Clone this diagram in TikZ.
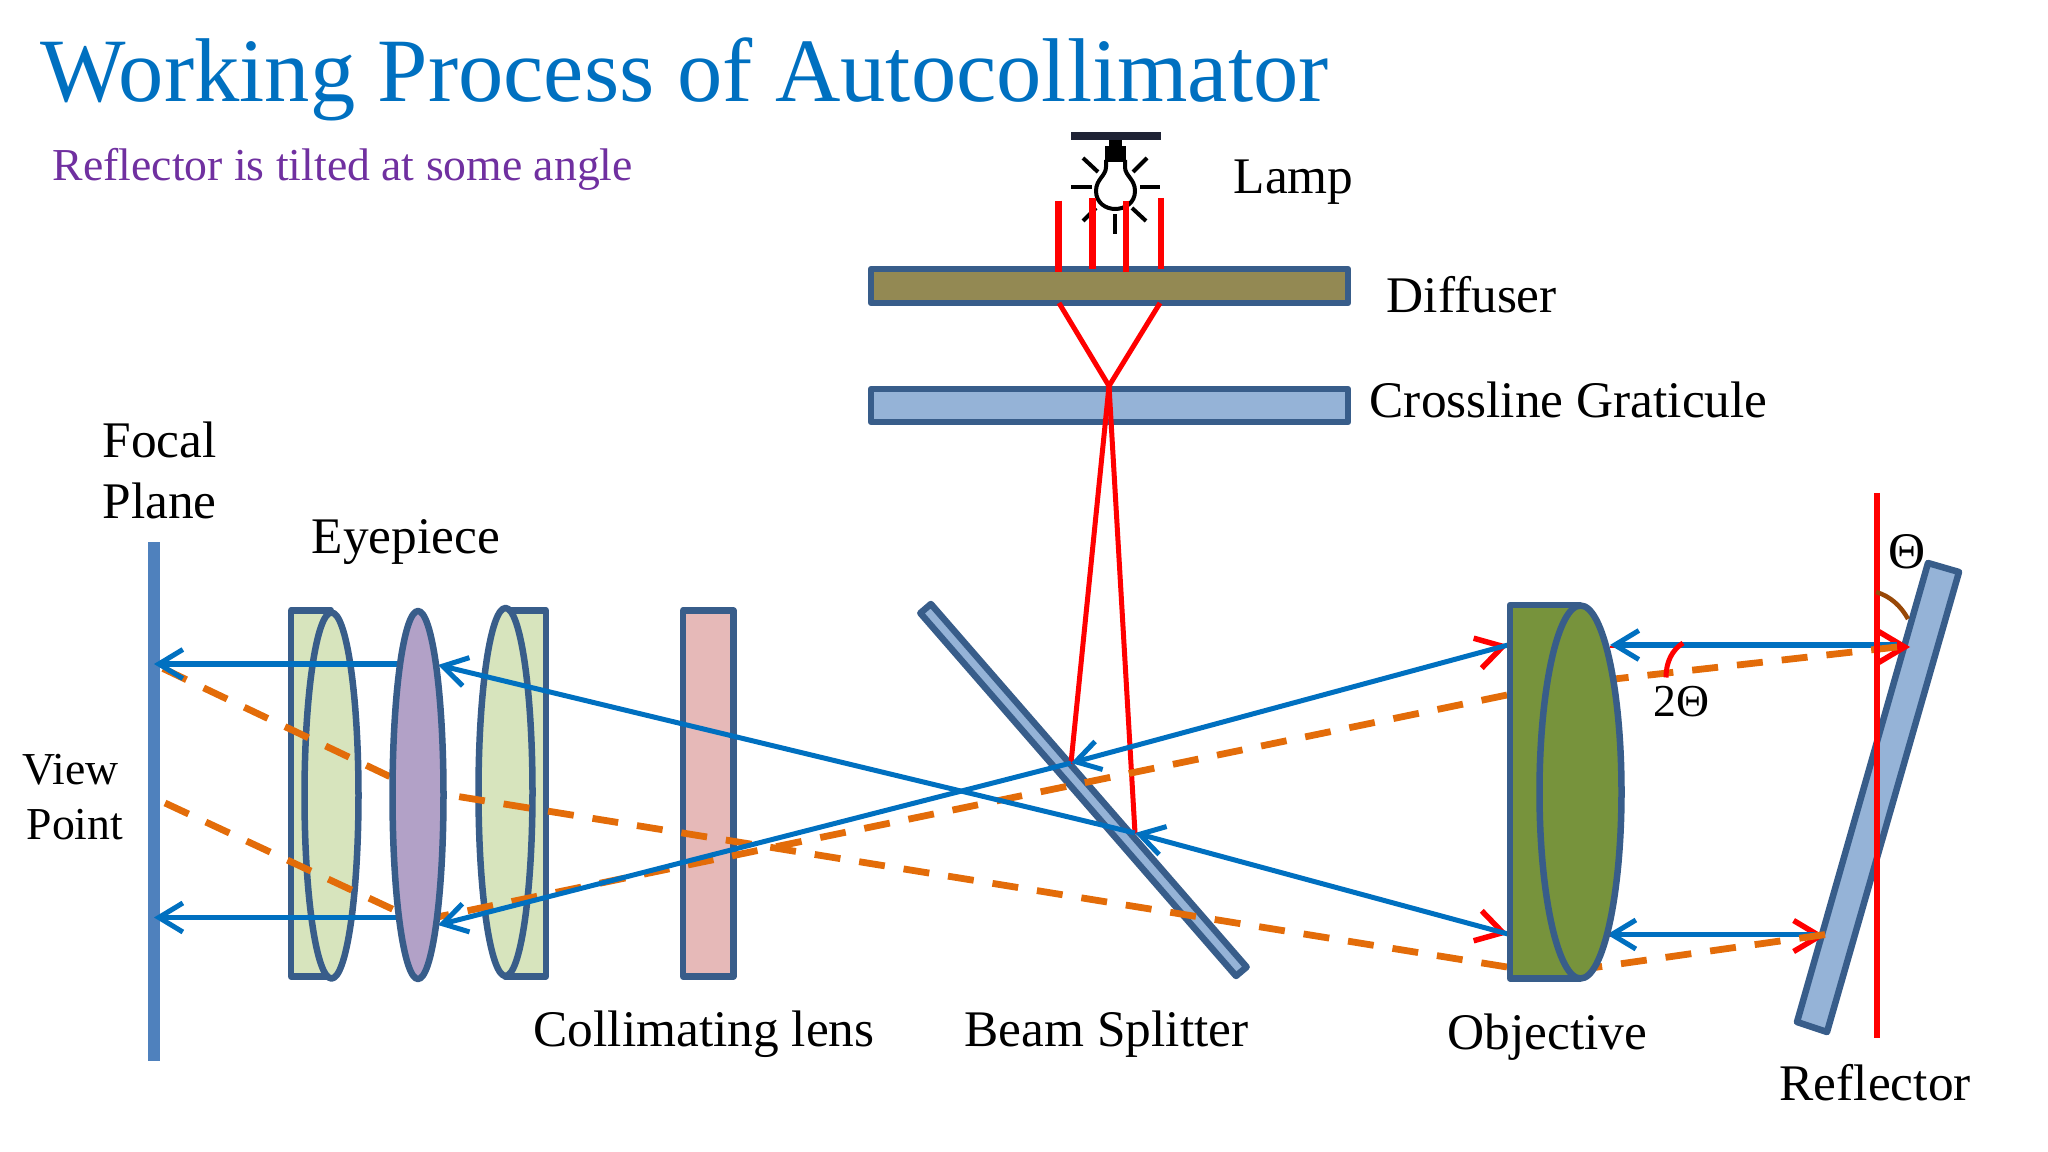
\documentclass[tikz,border=0pt]{standalone}
\usepackage{fontspec}
\setmainfont{Liberation Serif}
\usetikzlibrary{arrows.meta}
\definecolor{rayblue}{HTML}{0070C0}
\definecolor{rayorange}{HTML}{E36C09}
\definecolor{edgeblue}{HTML}{385D8A}
\definecolor{plateblue}{HTML}{95B3D7}
\definecolor{planeblue}{HTML}{4F81BD}
\definecolor{diffuserfill}{HTML}{938953}
\definecolor{lensgreen}{HTML}{D7E4BD}
\definecolor{lenspurple}{HTML}{B2A1C7}
\definecolor{lenspink}{HTML}{E6B9B8}
\definecolor{objgreen}{HTML}{77933C}
\definecolor{titlepurple}{HTML}{7030A0}
\definecolor{lampdark}{HTML}{1F2335}
\definecolor{arcbrown}{HTML}{984807}
\tikzset{
  optic/.style={draw=edgeblue,line width=.65mm,line join=round},
  bluebeam/.style={draw=rayblue,line width=.5mm},
  blueend/.style={bluebeam,-{Straight Barb[length=2.4mm,width=2.9mm]}},
  redbeam/.style={draw=red,line width=.5mm},
  redhead/.style={draw=red,line width=.2mm,-{Straight Barb[length=2.6mm,width=3.1mm,line width=.55mm]}},
  lampray/.style={draw=red,line width=.64mm},
  image/.style={draw=rayorange,line width=.68mm,dash pattern=on 2.6mm off 1.9mm},
  spoke/.style={draw=black,line width=.4mm},
  label/.style={inner sep=0pt,anchor=base west,font=\fontsize{14.6}{18}\selectfont}
}
\begin{document}
\begin{tikzpicture}[x=.01cm,y=-.01cm]
   \useasboundingbox (0,0) rectangle (2048,1152);

   \node[label,text=rayblue,font=\fontsize{25.75}{30}\selectfont] (title) at (40,102) {Working Process of Autocollimator};
   \node[label,text=titlepurple,font=\fontsize{13}{16}\selectfont] (subtitle) at (52,181) {Reflector is tilted at some angle};

   \coordinate (graticule) at (1109,386);
   \coordinate (splitA) at (1071,763);
   \coordinate (splitB) at (1135,833);
   \coordinate (objA) at (1508,645);
   \coordinate (objB) at (1508,934);
   \coordinate (eyeA) at (438,665);
   \coordinate (eyeB) at (438,925);
   \coordinate (planeA) at (154,664);
   \coordinate (planeB) at (154,917.5);

   \fill[lampdark] (1071,132.5) rectangle (1161,140.5);
   \fill[black] (1109,140) rectangle (1122,146);
   \draw[spoke] (1105,148)--(1126,148);
   \draw[spoke] (1105,152)--(1126,152);
   \draw[spoke] (1105,156)--(1126,156);
   \draw[spoke] (1105,160)--(1126,160);
   \draw[spoke] (1106,160) -- (1106,167) .. controls (1106,176) and (1096,179) .. (1096,191) .. controls (1096,203) and (1106,209) .. (1115,209) .. controls (1125,209) and (1135,203) .. (1135,191) .. controls (1135,179) and (1125,176) .. (1125,167) -- (1125,160);
   \draw[spoke] (1071,187)--(1092,187);
   \draw[spoke] (1140,187)--(1160,187);
   \draw[spoke] (1115,214)--(1115,234);
   \draw[spoke] (1083,158)--(1098,172);
   \draw[spoke] (1147,158)--(1133,172);
   \draw[spoke] (1083,221)--(1096,208);
   \draw[spoke] (1146,221)--(1132,208);

   \draw[optic,fill=diffuserfill] (871,269) rectangle (1348,303);
   \draw[optic,fill=plateblue] (871,389) rectangle (1348,422);

   \draw[lampray] (1058.6,200.7)--(1058.6,272);
   \draw[lampray] (1092.5,198)--(1092.5,269);
   \draw[lampray] (1126,200.7)--(1126,272);
   \draw[lampray] (1161,198)--(1161,269);

   \draw[redbeam] (1059,303)--(graticule);
   \draw[redbeam] (1160,303)--(graticule);

   \draw[optic,fill=plateblue] (930.9,604)--(920.3,613.1)--(1236,976)--(1246.6,967)--cycle;
   \draw[redbeam] (graticule)--(splitA);
   \draw[redbeam] (graticule)--(splitB);

   \fill[planeblue] (147.5,542) rectangle (160,1061);

   \draw[optic,fill=lensgreen] (291,610.5) rectangle (331,976.5);
   \draw[optic,fill=lensgreen] (331.5,795.5) ellipse (27 and 183);
   \draw[optic,fill=lensgreen] (505,610.5) rectangle (546,976.5);
   \draw[optic,fill=lensgreen] (505.5,792) ellipse (27 and 184);
   \draw[optic,fill=lenspink] (683,610.5) rectangle (733.5,976.5);

   \draw[optic,fill=plateblue] (1928,563)--(1959,572)--(1827,1032)--(1797,1022)--cycle;

   \draw[image] (163,668.5)--(418,790);
   \draw[image] (165,803)--(418,921);
   \draw[image] (1507,967)--(418,790);
   \draw[image] (1507,695)--(418,921);

   \draw[blueend] (399,664)--(planeA);
   \draw[blueend] (397,917.5)--(planeB);
   \draw[blueend] (splitB)--(eyeA);
   \draw[blueend] (splitA)--(eyeB);
   \draw[redhead] (splitA)--(objA);
   \draw[redhead] (splitB)--(objB);
   \draw[blueend] (objA)--(splitA);
   \draw[blueend] (objB)--(splitB);

   \draw[optic,fill=lenspurple] (418,795) ellipse (25.5 and 184);

   \draw[redhead] (1610,647)--(1910,647);
   \draw[redhead] (1607,936)--(1825,936);
   \draw[blueend] (1897,645)--(1610,645);
   \draw[blueend] (1815,934.5)--(1607,934.5);
   \draw[image] (1825,934.6)--(1570,971);
   \draw[image] (1897,647)--(1570,684);

   \draw[optic,fill=objgreen] (1580.5,605) -- (1510,605) -- (1510,978.5) -- (1580.5,978.5);
   \draw[optic,fill=objgreen] (1580.5,792) ellipse (41 and 186.5);

   \draw[draw=red,line width=.6mm] (1877,493)--(1877,1038);
   \draw[draw=arcbrown,line width=.45mm] (1876,592) .. controls (1890,596) and (1901,606) .. (1908,619);
   \draw[draw=red,line width=.5mm] (1683,643) .. controls (1672,650) and (1666,662) .. (1666,677.5);

   \node[label] (lamp) at (1233,194) {Lamp};
   \node[label] (diffuser) at (1386,313) {Diffuser};
   \node[label] (crossline) at (1369,418) {Crossline Graticule};
   \node[label] (focal) at (102,458) {Focal};
   \node[label] (plane) at (102,519) {Plane};
   \node[label] (eyepiece) at (311,554) {Eyepiece};
   \node[label,font=\fontsize{13}{16}\selectfont] (view) at (22,784) {View};
   \node[label,font=\fontsize{13}{16}\selectfont] (point) at (26,839) {Point};
   \node[label] (collimating) at (533,1046) {Collimating lens};
   \node[label] (splitter) at (964,1046) {Beam Splitter};
   \node[label] (objective) at (1447,1049) {Objective};
   \node[label] (reflector) at (1779,1100) {Reflector};
   \node[label] (theta) at (1888,569) {Θ};
   \node[label,font=\fontsize{13}{16}\selectfont] (twotheta) at (1653,716) {2Θ};
\end{tikzpicture}
\end{document}
